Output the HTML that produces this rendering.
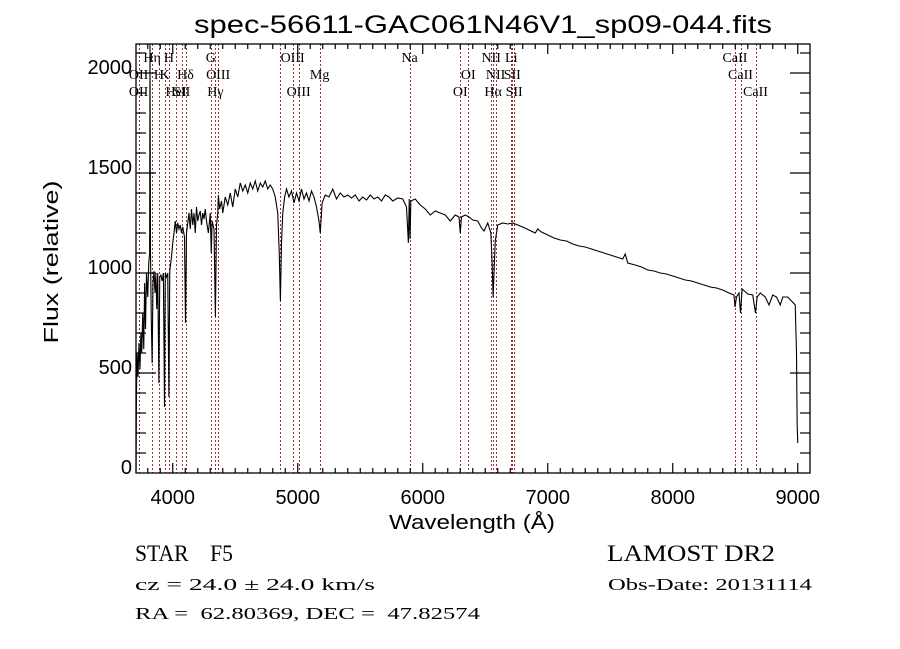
<!DOCTYPE html>
<html><head><meta charset="utf-8"><style>
html,body{margin:0;padding:0;background:#fff;}
svg{display:block;}
text{white-space:pre;}
</style></head><body>
<svg id="chart" width="900" height="649" viewBox="0 0 900 649" xmlns="http://www.w3.org/2000/svg">
<rect x="0" y="0" width="900" height="649" fill="#fff"/>
<text x="483" y="33" font-family="Liberation Sans, sans-serif" font-size="25" text-anchor="middle" textLength="578" lengthAdjust="spacingAndGlyphs">spec-56611-GAC061N46V1_sp09-044.fits</text>
<g id="lines"></g>
<g id="linelabels"></g>
<g id="ticks"></g>
<path id="spec" fill="none" stroke="#000" stroke-width="1.1"/>
<rect x="136" y="44" width="674" height="429" fill="none" stroke="#000" stroke-width="1.3"/>
<text x="472" y="529" font-family="Liberation Sans, sans-serif" font-size="20" text-anchor="middle" textLength="166" lengthAdjust="spacingAndGlyphs">Wavelength (Å)</text>
<text transform="translate(58,262) rotate(-90)" font-family="Liberation Sans, sans-serif" font-size="20" text-anchor="middle" textLength="163" lengthAdjust="spacingAndGlyphs">Flux (relative)</text>
<g font-family="Liberation Serif, serif">
<text x="135" y="561" font-size="23" xml:space="preserve" textLength="98" lengthAdjust="spacingAndGlyphs">STAR    F5</text>
<text x="607" y="561" font-size="23" textLength="168" lengthAdjust="spacingAndGlyphs">LAMOST DR2</text>
<text x="135" y="590" font-size="17" textLength="240" lengthAdjust="spacingAndGlyphs">cz = 24.0 ± 24.0 km/s</text>
<text x="608" y="590" font-size="17" textLength="204" lengthAdjust="spacingAndGlyphs">Obs-Date: 20131114</text>
<text x="135" y="619" font-size="17" xml:space="preserve" textLength="345" lengthAdjust="spacingAndGlyphs">RA =  62.80369, DEC =  47.82574</text>
</g>
</svg>
<script>
const wl = [3706,3710,3715,3722,3730,3738,3745,3752,3760,3768,3775,3782,3790,3800,3808,3815,3818,3822,3828,3835,3842,3850,3858,3865,3872,3880,3889,3896,3905,3915,3925,3934,3940,3950,3960,3969,3976,3990,4000,4010,4020,4030,4040,4050,4060,4070,4080,4094,4102,4110,4120,4130,4140,4150,4160,4170,4180,4190,4200,4210,4220,4230,4240,4250,4260,4270,4285,4300,4308,4315,4330,4341,4350,4360,4365,4375,4390,4400,4420,4440,4460,4480,4500,4520,4540,4560,4580,4600,4620,4640,4660,4680,4700,4720,4740,4760,4780,4800,4820,4840,4852,4861,4870,4880,4895,4910,4930,4950,4970,4990,5010,5030,5050,5070,5090,5110,5130,5150,5170,5180,5195,5220,5250,5280,5310,5340,5370,5400,5430,5460,5490,5520,5550,5580,5610,5640,5670,5700,5730,5760,5800,5840,5870,5885,5892,5898,5905,5940,5980,6020,6060,6100,6140,6180,6220,6260,6290,6300,6310,6340,6370,6400,6440,6470,6490,6520,6545,6555,6563,6570,6580,6600,6640,6680,6720,6760,6800,6850,6900,6920,6950,7000,7050,7100,7150,7200,7250,7300,7350,7400,7450,7500,7550,7600,7620,7640,7700,7750,7800,7850,7900,7950,8000,8050,8100,8150,8200,8250,8300,8350,8400,8450,8490,8498,8510,8530,8542,8555,8600,8640,8662,8675,8700,8740,8770,8800,8830,8860,8880,8920,8950,8980,8990,8995,9000];
const flux = [0,420,600,480,650,520,700,600,800,620,950,720,1000,880,1050,1100,2200,1100,780,550,950,1010,900,1000,820,1000,450,980,990,960,1000,330,1000,980,1000,380,1010,1080,1150,1200,1260,1200,1250,1220,1240,1200,1230,1180,750,1200,1250,1300,1220,1320,1240,1300,1200,1330,1260,1290,1310,1240,1300,1270,1320,1260,1200,1300,1100,1260,1220,780,1240,1300,1390,1320,1360,1300,1380,1340,1400,1330,1420,1380,1450,1410,1440,1400,1450,1420,1460,1410,1450,1430,1460,1420,1440,1420,1380,1300,1100,860,1150,1300,1380,1420,1380,1410,1350,1400,1360,1420,1370,1400,1360,1410,1380,1330,1260,1200,1350,1390,1380,1420,1370,1400,1380,1390,1375,1390,1360,1380,1365,1390,1370,1380,1360,1390,1380,1360,1375,1370,1330,1150,1370,1170,1360,1370,1340,1320,1290,1310,1300,1290,1260,1290,1280,1200,1280,1290,1280,1265,1260,1225,1210,1250,1200,1050,880,1000,1160,1240,1250,1245,1250,1240,1230,1215,1200,1220,1205,1190,1175,1165,1160,1145,1135,1130,1120,1110,1100,1090,1080,1070,1095,1050,1040,1030,1015,1010,1000,995,985,975,965,960,950,940,930,925,915,900,890,830,880,900,800,920,895,890,800,880,900,880,840,890,880,840,880,880,860,840,600,250,150];
const xTickVals = [4000,5000,6000,7000,8000,9000];
const yTickVals = [0,500,1000,1500,2000];
const lineWl = [3727,3835,3889,3934,3969,4026,4072,4102,4304,4341,4363,4861,4959,5007,5175,5894,6300,6364,6548,6563,6583,6708,6716,6731,8498,8542,8662];
const labelText = ["Hη","H","G","OIII","Na","NII","Li","CaII","OII","H","K","Hδ","OIII","Mg","OI","NII","SII","CaII","OII","HeI","SII","Hγ","OIII","OI","Hα","SII","CaII"];
const labelWl = [3835,3969,4304,4959,5894,6548,6708,8498,3727,3889,3934,4102,4363,5175,6364,6583,6716,8542,3727,4026,4072,4341,5007,6300,6563,6731,8662];
const labelRow = [0,0,0,0,0,0,0,0,1,1,1,1,1,1,1,1,1,1,2,2,2,2,2,2,2,2,2];

const X0=136,X1=810,Y0=473,Y1=44,WMIN=3706,WMAX=9098,FMIN=0,FMAX=2145;
const NS='http://www.w3.org/2000/svg';
function sx(w){return X0+(w-WMIN)*(X1-X0)/(WMAX-WMIN);}
function sy(f){return Y0-(f-FMIN)*(Y0-Y1)/(FMAX-FMIN);}
function mk(tag,attrs,parent){const e=document.createElementNS(NS,tag);for(const k in attrs)e.setAttribute(k,attrs[k]);parent.appendChild(e);return e;}

let d='';
for(let i=0;i<wl.length;i++){const y=Math.max(Y1,Math.min(Y0,sy(flux[i])));d+=(i?'L':'M')+sx(wl[i]).toFixed(2)+','+y.toFixed(2);}
document.getElementById('spec').setAttribute('d',d);

const lg=document.getElementById('lines');
lineWl.forEach(w=>{
  const x=Math.round(sx(w))+0.5;
  const l=mk('line',{x1:x,x2:x,y1:Y1,y2:Y0,stroke:'#a03030','stroke-width':1,'stroke-dasharray':'2,2'},lg);
  
  
});
const ll=document.getElementById('linelabels');
labelText.forEach((t,i)=>{
  const e=mk('text',{x:sx(labelWl[i]),y:62+labelRow[i]*17,'font-family':'Liberation Serif, serif','font-size':14,'text-anchor':'middle'},ll);
  e.textContent=t;
  
  
});

const tg=document.getElementById('ticks');
for(let w=3800;w<=9000;w+=100){
  const maj=w%1000===0,len=maj?10:5;
  mk('line',{x1:sx(w),x2:sx(w),y1:Y0,y2:Y0-len,stroke:'#000','stroke-width':1.2},tg);
  mk('line',{x1:sx(w),x2:sx(w),y1:Y1,y2:Y1+len,stroke:'#000','stroke-width':1.2},tg);
}
for(let f=100;f<=2100;f+=100){
  const maj=f%500===0,len=maj?20:10;
  mk('line',{x1:X0,x2:X0+len,y1:sy(f),y2:sy(f),stroke:'#000','stroke-width':1.2},tg);
  mk('line',{x1:X1,x2:X1-len,y1:sy(f),y2:sy(f),stroke:'#000','stroke-width':1.2},tg);
}
xTickVals.forEach(v=>{
  const e=mk('text',{x:sx(v),y:Y0+31,'font-family':'Liberation Sans, sans-serif','font-size':20,'text-anchor':'middle'},tg);
  e.textContent=v;
  
  
});
yTickVals.forEach(v=>{
  const e=mk('text',{x:X0-4,y:sy(v)+1,'font-family':'Liberation Sans, sans-serif','font-size':20,'text-anchor':'end'},tg);
  e.textContent=v;
  
  
});
</script>
</body></html>
